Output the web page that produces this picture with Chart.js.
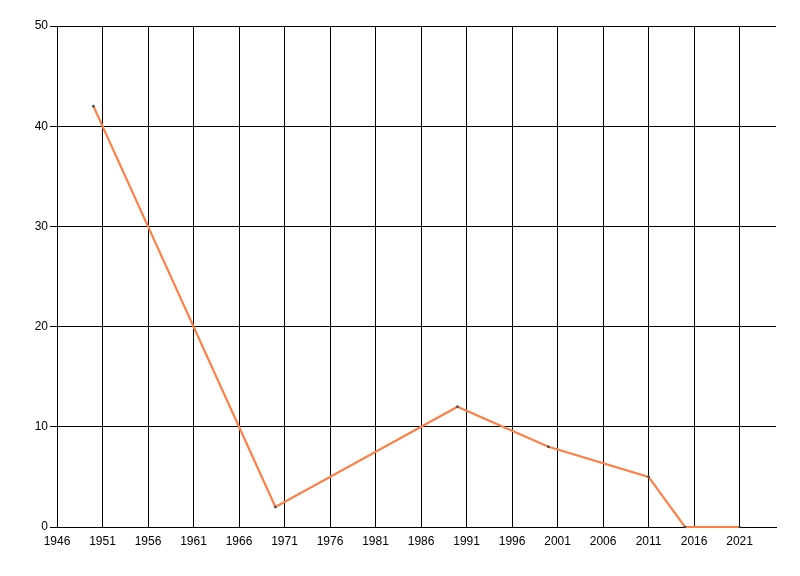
<!DOCTYPE html>
<html lang="en">
<head>
    <meta charset="UTF-8">
    <title>Line chart</title>
    <script src="https://cdn.jsdelivr.net/npm/chart.js"></script>
    <style>
        html, body { margin: 0; padding: 0; background: #fff; }
        #wrap { width: 800px; height: 576px; }
    </style>
</head>
<body>
    <div id="wrap"><canvas id="chart" width="800" height="576"></canvas></div>
    <script>
        // values
        const years = [1950, 1970, 1990, 2000, 2011, 2015, 2021];
        const values = [42, 2, 12, 8, 5, 0, 0];
        const xTicks = [1946, 1951, 1956, 1961, 1966, 1971, 1976, 1981, 1986, 1991, 1996, 2001, 2006, 2011, 2016, 2021];
        const yTicks = [0, 10, 20, 30, 40, 50];

        const points = years.map((y, i) => ({ x: y, y: values[i] }));

        new Chart(document.getElementById('chart'), {
            type: 'line',
            data: {
                datasets: [{
                    data: points,
                    borderColor: '#ff7f44',
                    borderWidth: 2.2,
                    pointRadius: 1.3,
                    pointBackgroundColor: '#444',
                    pointBorderWidth: 0,
                    tension: 0,
                    clip: false
                }]
            },
            options: {
                responsive: false,
                animation: false,
                layout: { padding: { left: 0, top: 26, right: 24, bottom: 0 } },
                plugins: { legend: { display: false }, tooltip: { enabled: false } },
                scales: {
                    x: {
                        type: 'linear',
                        min: 1946,
                        max: 2025,
                        afterBuildTicks: s => { s.ticks = xTicks.map(v => ({ value: v })); },
                        afterFit: s => { s.height = 49; },
                        grid: { color: '#000', lineWidth: 1, drawTicks: false },
                        border: { color: '#000', width: 1 },
                        ticks: {
                            color: '#000', padding: 7, maxRotation: 0, autoSkip: false,
                            callback: v => String(v),
                            font: { family: 'Liberation Sans, Arial', size: 12 }
                        }
                    },
                    y: {
                        min: 0,
                        max: 50,
                        afterBuildTicks: s => { s.ticks = yTicks.map(v => ({ value: v })); },
                        afterFit: s => { s.width = 57; },
                        grid: { color: '#000', lineWidth: 1, tickLength: 7 },
                        border: { color: '#000', width: 1 },
                        ticks: {
                            color: '#000', padding: 2,
                            callback: v => String(v),
                            font: { family: 'Liberation Sans, Arial', size: 12 }
                        }
                    }
                }
            }
        });
    </script>
</body>
</html>
